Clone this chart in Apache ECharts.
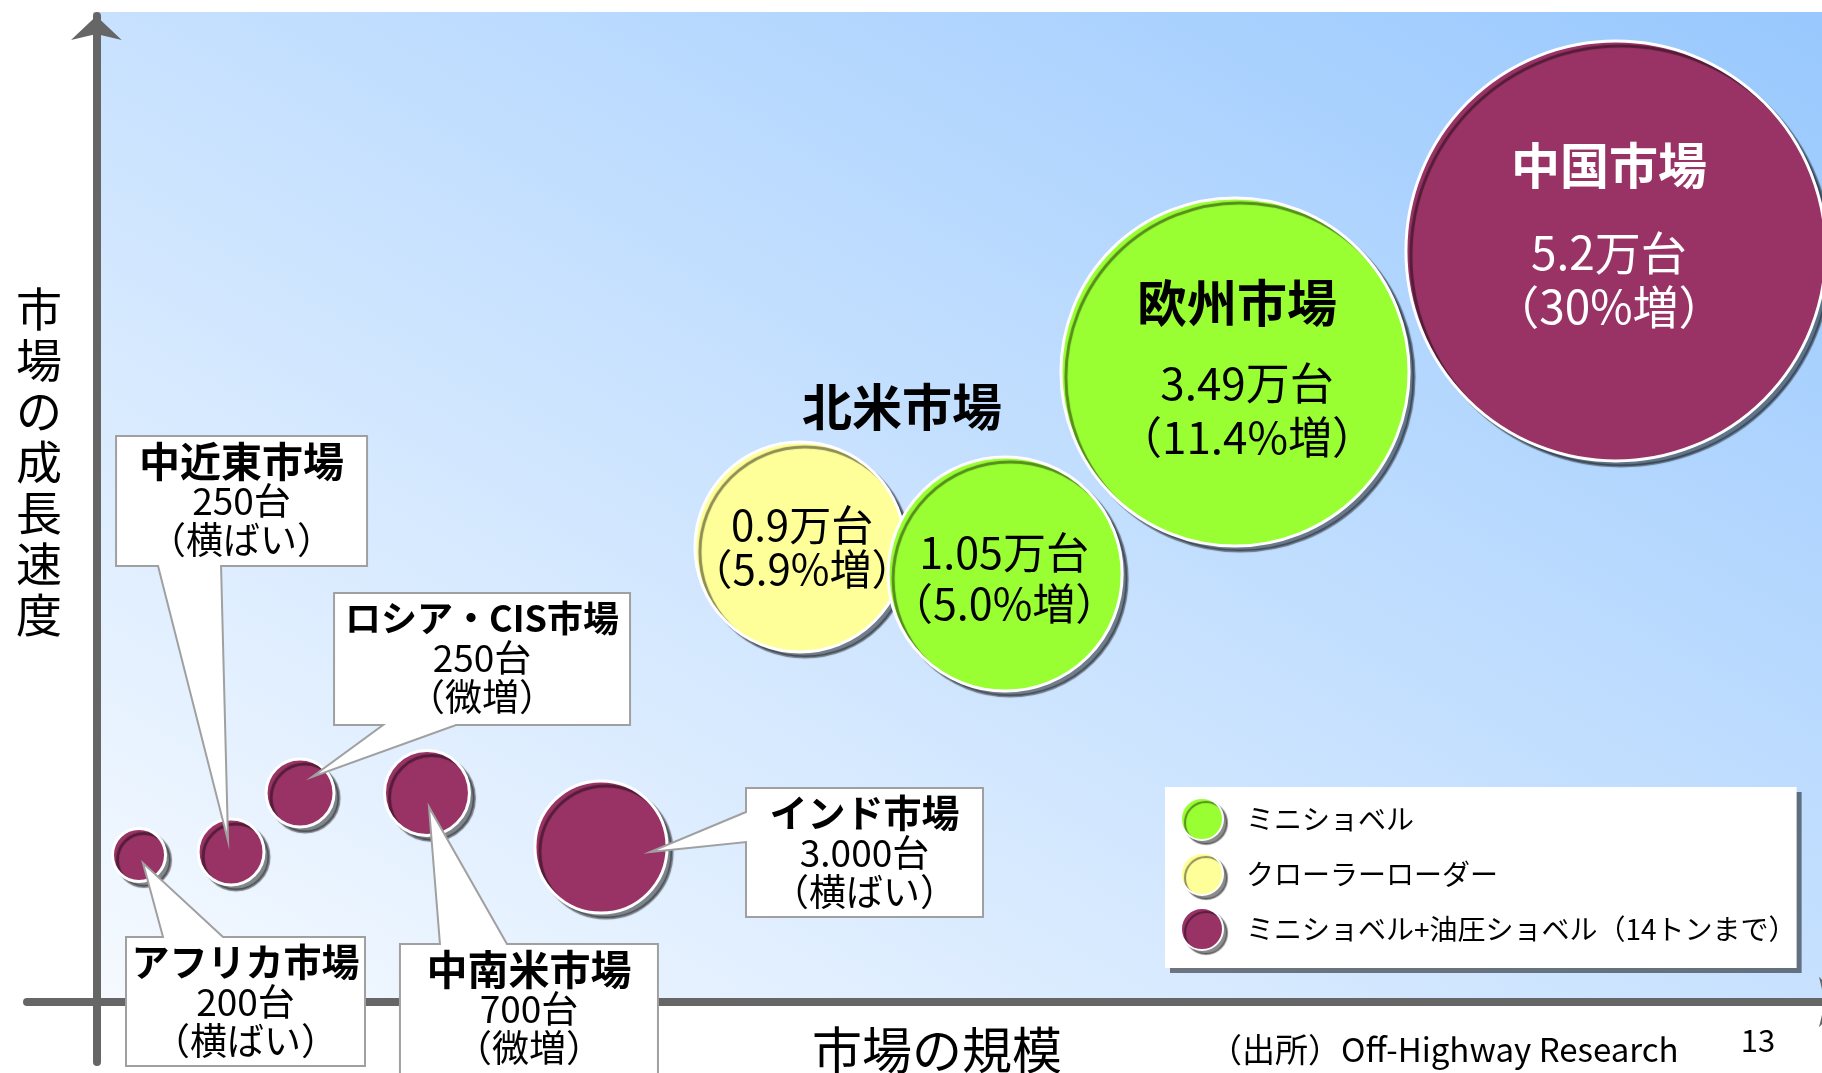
<!DOCTYPE html>
<html><head><meta charset="utf-8">
<script src="https://cdn.jsdelivr.net/npm/echarts@6/dist/echarts.min.js"></script>
<style>html,body{margin:0;padding:0;background:#fff}#c{width:1822px;height:1073px}</style>
</head><body><div id="c"></div>
<script>
// ---------- data ----------
const markets = ['中国市場','欧州市場','北米市場','北米市場','インド市場','中南米市場','ロシア・CIS市場','中近東市場','アフリカ市場'];
const unitsText = ['5.2万台','3.49万台','0.9万台','1.05万台','3.000台','700台','250台','250台','200台'];
const growthText = ['（30%増）','（11.4%増）','（5.9%増）','（5.0%増）','（横ばい）','（微増）','（微増）','（横ばい）','（横ばい）'];
const machineType = [2,0,1,0,2,2,2,2,2];           // index into legendNames
const marketSize = [87.65,65.68,40.59,52.42,29.11,19.07,11.75,7.77,2.46];   // schematic x (市場の規模)
const growthSpeed = [75.1,63.0,45.5,42.8,15.5,20.9,20.9,15.0,14.7];         // schematic y (市場の成長速度)
const bubbleRadius = [12.11,10.04,6.06,6.75,3.81,2.45,1.96,1.9,1.53];       // in x-axis units
const legendNames = ['ミニショベル','クローラーローダー','ミニショベル+油圧ショベル（14トンまで）'];
const xAxisTitle = '市場の規模';
const yAxisTitle = '市場の成長速度';
const sourceText = '（出所）Off-Highway Research';
const pageNo = '13';

// ---------- styles / layout ----------
const FONT = '"Noto Sans CJK JP","Noto Sans",sans-serif';
const COLORS = ['#99ff33','#ffff99','#993366'];
const LABEL_LAYOUT = [
  {type:'inside', color:'#ffffff', shadow:'rgba(40,40,40,0.6)', rows:[
    {dx:-7,dy:-86,size:49,bold:true,which:'name'},{dx:-7,dy:2,size:46,which:'units'},{dx:-7,dy:56,size:46,which:'growth'}]},
  {type:'inside', color:'#000000', shadow:'rgba(0,0,0,0.35)', rows:[
    {dx:2,dy:-69,size:50,bold:true,which:'name'},{dx:12,dy:11,size:44,which:'units'},{dx:12,dy:65,size:44,which:'growth'}]},
  {type:'inside', color:'#000000', shadow:'rgba(0,0,0,0.35)', rows:[
    {dx:102,dy:-140,size:50,bold:true,which:'name'},{dx:2,dy:-22,size:42,which:'units'},{dx:2,dy:22,size:42,which:'growth'}]},
  {type:'inside', color:'#000000', shadow:'rgba(0,0,0,0.35)', rows:[
    {dx:-1,dy:-21,size:43,which:'units'},{dx:-1,dy:30,size:43,which:'growth'}]},
  {type:'callout', box:[145,-59,382,70], edge:'left', base:[-35,-5], tip:[49,5], head:38},
  {type:'callout', box:[-27,151,231,288], edge:'top', base:[13,80], tip:[2,14], head:41},
  {type:'callout', box:[34,-200,330,-68], edge:'bottom', base:[83,156], tip:[12,-16], head:36},
  {type:'callout', box:[-115,-416,136,-286], edge:'bottom', base:[-73,-10], tip:[-3,-11], head:41},
  {type:'callout', box:[-13,82,226,211], edge:'top', base:[24,84], tip:[4,8], head:38}
];
const CALLOUT_ROWS = [{dy:25,bold:true,which:'name'},{dy:65,size:37,which:'units'},{dy:104,size:37,which:'growth'}];

function font(size, bold){ return (bold ? 'bold ' : '') + size + 'px ' + FONT; }

function calloutPoints(b, L, c){
  const x0=c[0]+b[0], y0=c[1]+b[1], x1=c[0]+b[2], y1=c[1]+b[3];
  const tip=[c[0]+L.tip[0], c[1]+L.tip[1]];
  const pts=[[x0,y0]];
  if (L.edge==='top'){ pts.push([c[0]+L.base[0],y0],tip,[c[0]+L.base[1],y0]); }
  pts.push([x1,y0],[x1,y1]);
  if (L.edge==='bottom'){ pts.push([c[0]+L.base[1],y1],tip,[c[0]+L.base[0],y1]); }
  pts.push([x0,y1]);
  if (L.edge==='left'){ pts.push([x0,c[1]+L.base[1]],tip,[x0,c[1]+L.base[0]]); }
  return {pts, x0, y0, x1, y1};
}

function makeRender(color){
  return function(params, api){
    const i = api.value(3);
    const c = api.coord([api.value(0), api.value(1)]);
    const r = api.size([api.value(2), 0])[0];
    const texts = {name:markets[i], units:unitsText[i], growth:growthText[i]};
    const children = [{
      type:'circle', shape:{cx:c[0], cy:c[1], r:r},
      style:{fill:color, stroke:'#ffffff', lineWidth:3, shadowColor:'rgba(0,0,0,0.45)', shadowBlur:1, shadowOffsetX:5, shadowOffsetY:5}
    }];
    const L = LABEL_LAYOUT[i];
    if (L.type==='inside'){
      L.rows.forEach(function(row){
        children.push({type:'text', x:c[0]+row.dx, y:c[1]+row.dy, style:{
          text:texts[row.which], font:font(row.size,row.bold), fill:L.color, align:'center', verticalAlign:'middle',
          textShadowColor:L.shadow, textShadowOffsetX:2, textShadowOffsetY:2, textShadowBlur:0}});
      });
    } else {
      const p = calloutPoints(L.box, L, c);
      children.push({type:'polygon', shape:{points:p.pts}, style:{fill:'#ffffff', stroke:'#a0a0a0', lineWidth:2}});
      const cx=(p.x0+p.x1)/2;
      CALLOUT_ROWS.forEach(function(row){
        children.push({type:'text', x:cx, y:p.y0+row.dy, style:{
          text:texts[row.which], font:font(row.bold ? L.head : row.size, row.bold), fill:'#000', align:'center', verticalAlign:'middle'}});
      });
    }
    return {type:'group', children:children};
  };
}

function seriesFor(k){
  const data=[];
  for (let i=0;i<markets.length;i++){
    if (machineType[i]===k) data.push([marketSize[i], growthSpeed[i], bubbleRadius[i], i]);
  }
  return {type:'custom', name:legendNames[k], data:data, encode:{x:0,y:1}, clip:false,
    itemStyle:{color:COLORS[k]}, renderItem:makeRender(COLORS[k])};
}

// background gradient: isolines run from top-left to bottom-right corner of the plot area
const BG = {x:93, y:12, w:1729, h:990};
(function(){
  const len = Math.sqrt(BG.w*BG.w + BG.h*BG.h);
  const ux = BG.h/len, uy = -BG.w/len;
  const cx = BG.x + BG.w/2, cy = BG.y + BG.h/2;
  const half = Math.abs((-BG.w/2)*ux + (BG.h/2)*uy);
  BG.grad = new echarts.graphic.LinearGradient(cx-half*ux, cy-half*uy, cx+half*ux, cy+half*uy,
    [{offset:0,color:'#f6faff'},{offset:1,color:'#98c8fe'}], true);
})();

const chart = echarts.init(document.getElementById('c'), null, {renderer:'canvas'});
chart.setOption({
  animation:false,
  backgroundColor:'#ffffff',
  textStyle:{fontFamily:FONT},
  grid:{left:27, right:-21, top:16, bottom:11, containLabel:false, outerBoundsMode:'none'},
  xAxis:{type:'value', min:-4, max:100.75,
    axisLine:{show:true, onZero:true, symbol:['none','arrow'], symbolSize:[38,24], lineStyle:{color:'#666666', width:8}},
    axisTick:{show:false}, axisLabel:{show:false}, splitLine:{show:false}},
  yAxis:{type:'value', min:-6, max:98.6,
    axisLine:{show:true, onZero:true, symbol:['none','arrow'], symbolSize:[38,24], lineStyle:{color:'#666666', width:8}},
    axisTick:{show:false}, axisLabel:{show:false}, splitLine:{show:false}},
  legend:{orient:'vertical', left:1165, top:787, itemWidth:78, itemHeight:42, itemGap:11,
    padding:[10,0,17,15], backgroundColor:'#ffffff',
    shadowColor:'rgba(0,0,0,0.5)', shadowBlur:0, shadowOffsetX:5, shadowOffsetY:5,
    selectedMode:false,
    textStyle:{fontSize:28, color:'#000', fontFamily:FONT},
    data:legendNames.map(function(n,k){ return {name:n, icon:'circle',
      itemStyle:{color:COLORS[k], borderColor:'#ffffff', borderWidth:2, shadowColor:'rgba(0,0,0,0.45)', shadowBlur:1, shadowOffsetX:4, shadowOffsetY:4}}; })},
  graphic:[
    {type:'rect', z:-100, silent:true, shape:{x:BG.x, y:BG.y, width:BG.w, height:BG.h}, style:{fill:BG.grad}},
    {type:'text', x:39, y:462, style:{text:yAxisTitle.split('').join('\n'), font:font(46), lineHeight:51, fill:'#000', align:'center', verticalAlign:'middle'}},
    {type:'text', x:937, y:1050, style:{text:xAxisTitle, font:font(50), fill:'#000', align:'center', verticalAlign:'middle'}},
    {type:'text', x:1209, y:1049, style:{text:sourceText, font:font(33), fill:'#000', align:'left', verticalAlign:'middle',
      textShadowColor:'rgba(0,0,0,0.3)', textShadowOffsetX:2, textShadowOffsetY:2}},
    {type:'text', x:1758, y:1040, style:{text:pageNo, font:font(31), fill:'#000', align:'center', verticalAlign:'middle'}}
  ],
  series:[seriesFor(1), seriesFor(0), seriesFor(2)]
});
</script></body></html>
